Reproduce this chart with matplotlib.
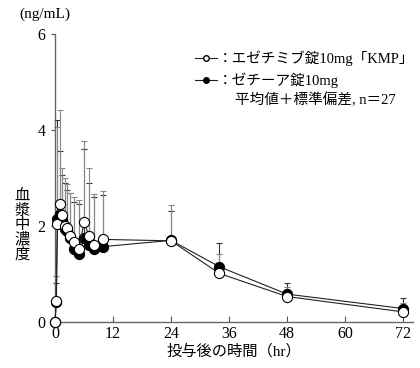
import numpy as np
import matplotlib
matplotlib.use("Agg")
import matplotlib.pyplot as plt
from matplotlib.lines import Line2D

plt.rcParams['font.family'] = ['Liberation Serif', 'Noto Sans CJK JP']

# sampling times (hr)
times = [0, 0.25, 0.5, 1, 1.5, 2, 2.5, 3, 4, 5, 6, 7, 8, 10, 24, 34, 48, 72]

# エゼチミブ錠10mg「KMP」 (open circles)
test_mean = [0, 0.44, 2.04, 2.46, 2.23, 1.99, 1.96, 1.79, 1.67, 1.52, 2.09, 1.79, 1.60, 1.72, 1.69, 1.01, 0.53, 0.21]
test_sd = [0, 0.52, 2.03, 1.96, 0.98, 1.01, 0.91, 0.90, 0.94, 1.03, 1.68, 1.42, 1.06, 1.01, 0.75, 0.41, 0.19, 0.18]

# ゼチーア錠10mg (filled circles)
ref_mean = [0, 0.42, 2.15, 2.25, 2.12, 1.93, 1.90, 1.75, 1.52, 1.42, 1.75, 1.60, 1.52, 1.57, 1.70, 1.15, 0.58, 0.28]
ref_sd = [0, 0.40, 2.06, 1.32, 0.94, 0.97, 0.85, 0.94, 0.98, 1.03, 1.85, 1.30, 1.08, 1.08, 0.62, 0.50, 0.23, 0.21]

test_label = "：エゼチミブ錠10mg「KMP」"
ref_label = "：ゼチーア錠10mg"
stat_note = "平均値＋標準偏差, n＝27"
ylabel_chars = "血漿中濃度"

W, H = 420, 368
fig = plt.figure(figsize=(W / 100, H / 100), dpi=100)
ax = fig.add_axes([0.131, 0.125, 0.852, 0.783])

t = np.array(times)
tm, ts = np.array(test_mean), np.array(test_sd)
rm, rs = np.array(ref_mean), np.array(ref_sd)

ax.errorbar(t, rm, yerr=[np.zeros_like(rs), rs], fmt='none', ecolor='#333333',
            elinewidth=0.8, capsize=2, capthick=0.8, zorder=2)
ax.errorbar(t, tm, yerr=[np.zeros_like(ts), ts], fmt='none', ecolor='#888888',
            elinewidth=0.8, capsize=2, capthick=0.8, zorder=2)

ax.plot(t, rm, '-o', color='#222222', lw=0.8, markersize=7.3,
        markerfacecolor='black', markeredgecolor='black', markeredgewidth=0.8, zorder=3)
ax.plot(t, tm, '-o', color='#222222', lw=0.8, markersize=7.3,
        markerfacecolor='white', markeredgecolor='black', markeredgewidth=0.8, zorder=4)

ax.set_xlim(0, 74)
ax.set_ylim(0, 6)
ax.set_xticks([0, 12, 24, 36, 48, 60, 72])
ax.set_yticks([0, 2, 4, 6])
ax.tick_params(axis='x', direction='in', length=4, labelsize=11.5, colors='#555555', pad=3)
ax.tick_params(axis='y', direction='out', length=3, labelsize=11.5, colors='#555555', pad=4)
for lab in ax.get_xticklabels() + ax.get_yticklabels():
    lab.set_color('black')
for s in ['top', 'right']:
    ax.spines[s].set_visible(False)
for s in ['left', 'bottom']:
    ax.spines[s].set_color('#666666')
    ax.spines[s].set_linewidth(1.0)
for ln in ax.lines:
    ln.set_clip_on(False)

ax.set_xlabel("投与後の時間（hr）", fontsize=11, labelpad=1)
for i, ch in enumerate(ylabel_chars):
    fig.text(22 / W, 1 - (196 + i * 14.5) / H, ch, fontsize=11, ha='center', va='center')
fig.text(45 / W, 1 - 14 / H, "(ng/mL)", fontsize=11, ha='center', va='center')

handles = [
    Line2D([], [], color='#222222', lw=0.8, marker='o', markersize=4,
           markerfacecolor='white', markeredgecolor='black'),
    Line2D([], [], color='#222222', lw=0.8, marker='o', markersize=4,
           markerfacecolor='black', markeredgecolor='black'),
]
ax.legend(handles, [test_label, ref_label], loc='upper left',
          bbox_to_anchor=((195 - 55) / 358, 1 - (51 - 34) / 288), frameon=False, fontsize=10.5,
          handlelength=1.5, handletextpad=0.1, labelspacing=0.4, borderaxespad=0,
          borderpad=0)
fig.text(235 / W, 1 - 100 / H, stat_note, fontsize=10.5, ha='left', va='center')

fig.savefig("out.png", dpi=100)
